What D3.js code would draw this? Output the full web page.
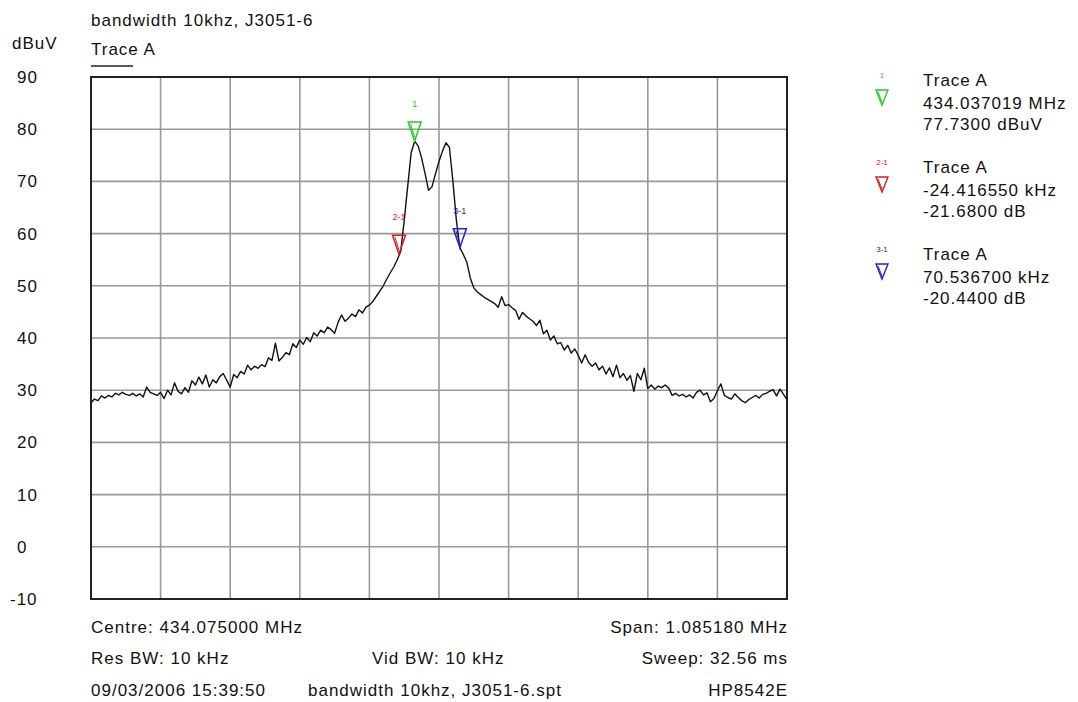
<!DOCTYPE html>
<html>
<head>
<meta charset="utf-8">
<script src="https://cdn.jsdelivr.net/npm/d3@7"></script>
<style>
  body { margin: 0; background: #fff; }
  svg text { font-family: "Liberation Sans", Arial, sans-serif; font-size: 17px; letter-spacing: 1px; fill: #111; }
</style>
</head>
<body>
<div id="div_graph"></div>
<script>
// sweep settings (MHz)
var centreMHz = 434.075;
var spanMHz = 1.08518;

// trace A, dBuV, 201 sweep points from start to stop
var traceA = [
  27.6, 28.3, 28.0, 28.9, 28.5, 29.0, 28.7, 29.4, 29.1, 29.6,
  29.2, 29.0, 29.4, 28.9, 29.3, 28.7, 30.6, 29.6, 29.3, 29.0,
  29.6, 28.4, 30.0, 29.1, 31.4, 29.8, 29.3, 30.5, 29.6, 31.8,
  31.0, 32.5, 31.2, 32.9, 30.6, 32.0, 31.4, 32.6, 33.2, 31.9,
  30.6, 33.0, 32.4, 33.6, 33.1, 34.8, 33.9, 34.6, 34.2, 34.9,
  34.5, 36.2, 35.7, 39.0, 35.6, 36.3, 37.2, 36.8, 38.9, 38.2,
  39.6, 38.8, 40.1, 39.3, 41.0, 40.4, 41.5, 41.0, 42.1, 41.6,
  40.9, 43.0, 44.4, 43.2, 43.8, 44.6, 44.1, 45.4, 44.8, 45.9,
  46.3, 47.0, 48.0, 49.0, 50.0, 51.3, 52.5, 53.6, 55.0, 56.6,
  62.5, 69.0, 75.5, 77.7, 76.8, 74.5, 71.5, 68.3, 69.0, 71.5,
  73.8, 75.8, 77.4, 76.5, 70.0, 62.5, 57.3, 56.0, 54.5, 51.5,
  49.6, 48.8, 48.3, 47.8, 47.4, 47.0, 46.6, 45.9, 47.9, 46.2,
  46.4, 45.8, 45.3, 43.6, 44.9, 44.2, 43.7, 43.2, 42.4, 43.4,
  40.8, 41.5, 39.6, 40.4, 38.9, 39.1, 37.7, 38.6, 37.1, 37.9,
  36.7, 35.2, 36.8, 35.3, 34.6, 35.2, 33.9, 34.6, 33.1, 34.3,
  32.6, 34.8, 32.4, 33.2, 31.9, 32.8, 29.8, 33.2, 32.0, 34.2,
  30.3, 31.0, 30.2, 30.8, 30.5, 31.0, 30.4, 29.0, 29.4, 28.9,
  29.2, 28.7, 29.1, 28.5, 29.6, 30.0, 29.1, 29.5, 27.8, 28.4,
  29.9, 31.2, 29.0, 28.6, 28.3, 29.3, 28.6, 28.0, 27.6, 28.2,
  28.6, 29.0, 28.5, 29.2, 29.4, 29.8, 30.1, 28.9, 30.2, 29.2,
  28.2
];

var yTicks = [90, 80, 70, 60, 50, 40, 30, 20, 10, 0, -10];
var xDivisions = 10;

// markers
var markerTags = ["1", "2-1", "3-1"];
var markerFreqs = [434.037019, 434.012602, 434.107556];
var markerLevels = [77.73, 56.05, 57.29];
var markerColors = ["#22cc22", "#cc2222", "#2222bb"];
var markerLines = [
  ["Trace A", "434.037019 MHz", "77.7300 dBuV"],
  ["Trace A", "-24.416550 kHz", "-21.6800 dB"],
  ["Trace A", "70.536700 kHz", "-20.4400 dB"]
];

var footer = [
  ["Centre: 434.075000 MHz", "", "Span: 1.085180 MHz"],
  ["Res BW: 10 kHz", "Vid BW: 10 kHz", "Sweep: 32.56 ms"],
  ["09/03/2006 15:39:50", "bandwidth 10khz, J3051-6.spt", "HP8542E"]
];

var width = 1078, height = 702;
var plot = {left: 91, right: 787, top: 77, bottom: 599};

var x = d3.scaleLinear()
  .domain([centreMHz - spanMHz / 2, centreMHz + spanMHz / 2])
  .range([plot.left, plot.right]);
var y = d3.scaleLinear()
  .domain([-10, 90])
  .range([plot.bottom, plot.top]);

var svg = d3.select('#div_graph')
  .append('svg')
    .attr('width', width)
    .attr('height', height);

// titles
svg.append('text').attr('x', 91).attr('y', 26).text('bandwidth 10khz, J3051-6');
svg.append('text').attr('x', 12).attr('y', 49).text('dBuV');
svg.append('text').attr('x', 91).attr('y', 55).text('Trace A');
svg.append('line')
  .attr('x1', 91).attr('x2', 133).attr('y1', 66).attr('y2', 66)
  .attr('stroke', '#222').attr('stroke-width', 1.5);

// grid
var xGrid = d3.range(1, xDivisions).map(function(i) {
  return x.domain()[0] + i * spanMHz / xDivisions;
});
svg.append('g').selectAll('line')
  .data(xGrid).enter().append('line')
    .attr('x1', function(d) { return x(d); })
    .attr('x2', function(d) { return x(d); })
    .attr('y1', plot.top).attr('y2', plot.bottom)
    .attr('stroke', '#999').attr('stroke-width', 1.6);
svg.append('g').selectAll('line')
  .data(yTicks.slice(1, -1)).enter().append('line')
    .attr('x1', plot.left).attr('x2', plot.right)
    .attr('y1', function(d) { return y(d); })
    .attr('y2', function(d) { return y(d); })
    .attr('stroke', '#999').attr('stroke-width', 1.6);

svg.append('rect')
  .attr('x', plot.left).attr('y', plot.top)
  .attr('width', plot.right - plot.left).attr('height', plot.bottom - plot.top)
  .attr('fill', 'none').attr('stroke', '#222').attr('stroke-width', 2);

// y labels
svg.append('g').selectAll('text')
  .data(yTicks).enter().append('text')
    .attr('x', function(d) { return d < 0 ? 10 : 17; })
    .attr('y', function(d) { return y(d); })
    .attr('dy', '0.35em')
    .text(function(d) { return d; });

// trace
var line = d3.line()
  .x(function(d, i) { return x(x.domain()[0] + i * spanMHz / (traceA.length - 1)); })
  .y(function(d) { return y(d); });

svg.append('path')
  .datum(traceA)
  .attr('d', line)
  .attr('fill', 'none')
  .attr('stroke', '#111')
  .attr('stroke-width', 1.4)
  .attr('stroke-linejoin', 'round');

// marker triangles (tip on the point)
function tri(cx, tipY, w, h) {
  return 'M' + (cx - w / 2) + ',' + (tipY - h) + 'L' + (cx + w / 2) + ',' + (tipY - h) +
    'L' + cx + ',' + tipY + 'Z';
}

var mk = svg.append('g').selectAll('g')
  .data(markerTags).enter().append('g');
mk.append('path')
  .attr('d', function(d, i) { return tri(x(markerFreqs[i]), y(markerLevels[i]), 13, 19); })
  .attr('fill', 'none')
  .attr('stroke', function(d, i) { return markerColors[i]; })
  .attr('stroke-width', 1.5);
mk.append('path')
  .attr('d', function(d, i) { return 'M' + (x(markerFreqs[i]) - 4) + ',' + (y(markerLevels[i]) - 17) + 'L' + x(markerFreqs[i]) + ',' + (y(markerLevels[i]) - 4); })
  .attr('stroke', function(d, i) { return markerColors[i]; })
  .attr('stroke-width', 1);
mk.append('text')
  .attr('x', function(d, i) { return x(markerFreqs[i]); })
  .attr('y', function(d, i) { return y(markerLevels[i]) - 34; })
  .attr('text-anchor', 'middle')
  .style('font-size', '9px').style('letter-spacing', '0px')
  .style('fill', function(d, i) { return markerColors[i]; })
  .text(function(d) { return d; });

// marker table on the right
var leg = svg.append('g').selectAll('g')
  .data(markerLines).enter().append('g')
    .attr('transform', function(d, i) { return 'translate(0,' + (i * 87) + ')'; });
leg.append('text')
  .attr('x', 882).attr('y', 78)
  .attr('text-anchor', 'middle')
  .style('font-size', '8px').style('letter-spacing', '0px')
  .style('fill', function(d, i) { return markerColors[i]; })
  .text(function(d, i) { return markerTags[i]; });
leg.append('path')
  .attr('d', tri(882, 105, 12, 15))
  .attr('fill', 'none')
  .attr('stroke', function(d, i) { return markerColors[i]; })
  .attr('stroke-width', 1.4);
leg.append('path')
  .attr('d', 'M878,92L882,102')
  .attr('stroke', function(d, i) { return markerColors[i]; })
  .attr('stroke-width', 1);
leg.selectAll('text.row')
  .data(function(d) { return d; }).enter().append('text')
    .attr('class', 'row')
    .attr('x', 923)
    .attr('y', function(d, j) { return [86, 109, 130][j]; })
    .text(function(d) { return d; });

// footer
var rows = [633, 664, 696];
footer.forEach(function(r, i) {
  svg.append('text').attr('x', 91).attr('y', rows[i]).text(r[0]);
  svg.append('text').attr('x', i == 1 ? 372 : 308).attr('y', rows[i]).text(r[1]);
  svg.append('text').attr('x', 788).attr('y', rows[i]).attr('text-anchor', 'end').text(r[2]);
});
</script>
</body>
</html>
